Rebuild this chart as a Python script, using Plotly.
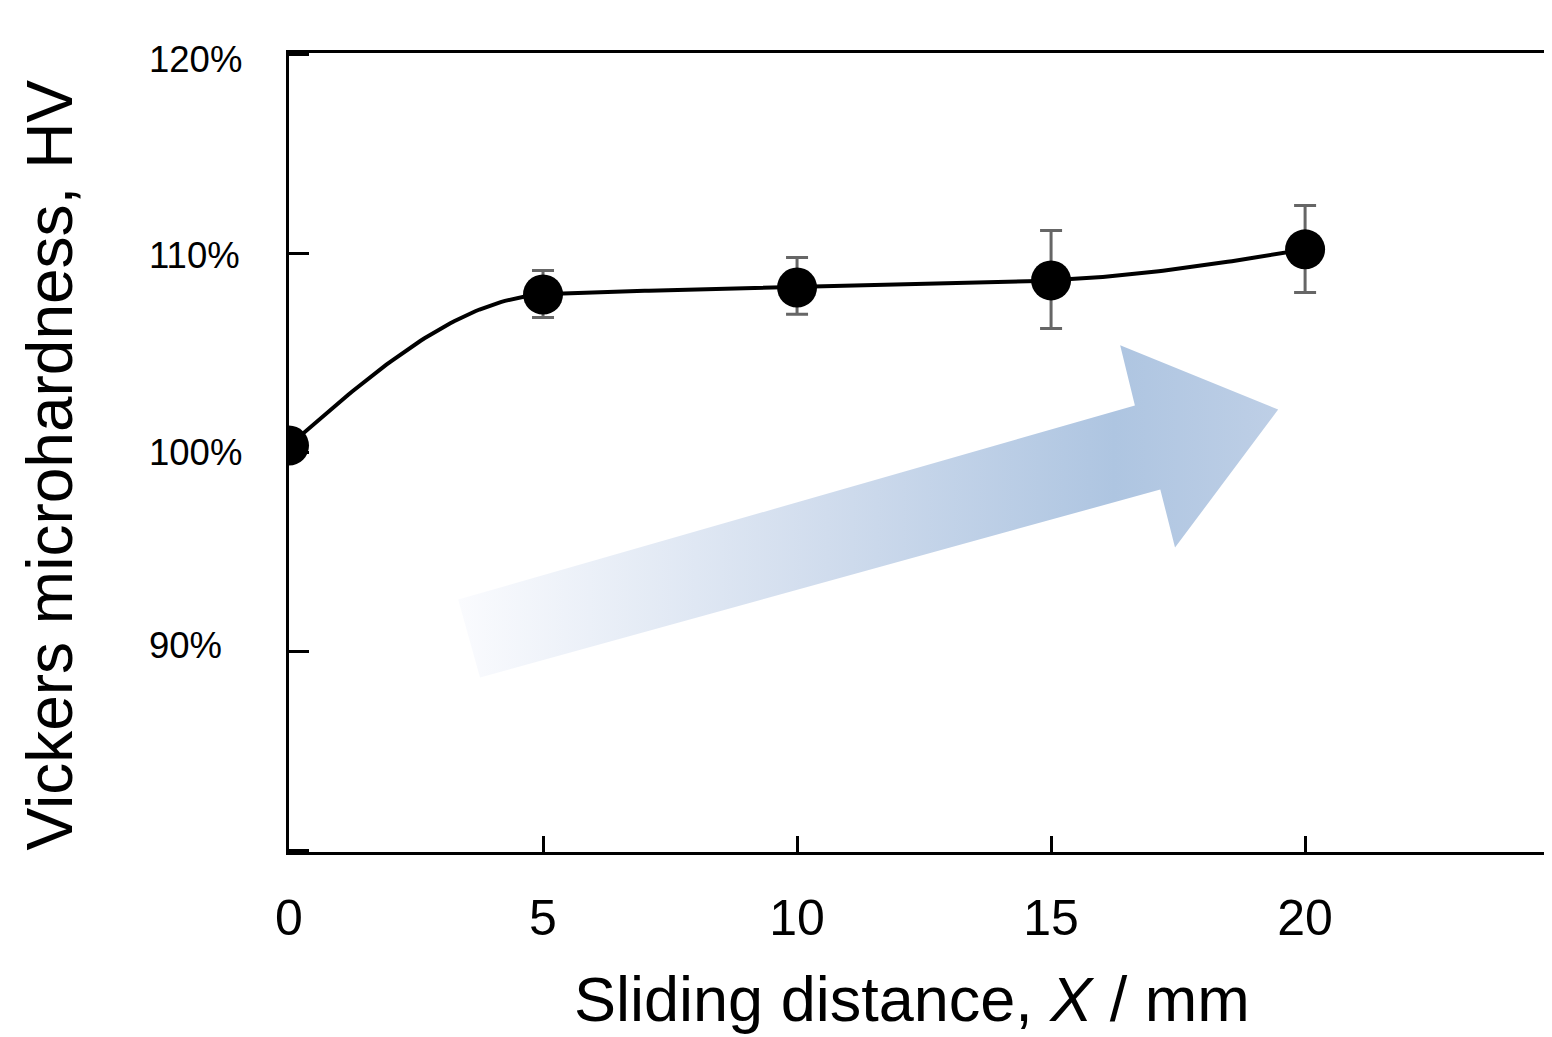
import numpy as np
import plotly.graph_objects as go

# ---- data ----
distance_mm = [0, 5, 10, 15, 20]
hardness_pct = [100.35, 107.95, 108.30, 108.66, 110.22]
err_plus = [0.0, 1.21, 1.51, 2.51, 2.21]
err_minus = [0.0, 1.16, 1.35, 2.42, 2.17]

y_tick_vals = [90, 100, 110, 120]
y_tick_text = ["90%", "100%", "110%", "120%"]
x_tick_vals = [0, 5, 10, 15, 20]
x_tick_text = ["0", "5", "10", "15", "20"]

# decorative trend arrow outline (data coordinates)
arrow_x = [3.76, 3.33, 16.65, 16.36, 19.47, 17.44, 17.15, 3.76]
arrow_y = [88.68, 92.60, 102.37, 105.39, 102.16, 95.22, 98.14, 88.68]

FONT = "Liberation Sans, Arial, sans-serif"


def pchip_curve(xs, ys, n=60):
    """Smooth monotone (PCHIP) guide line through the measured points."""
    x = np.asarray(xs, float)
    y = np.asarray(ys, float)
    h = np.diff(x)
    d = np.diff(y) / h
    m = np.zeros_like(y)
    for k in range(1, len(x) - 1):
        if d[k - 1] * d[k] > 0:
            w1 = 2 * h[k] + h[k - 1]
            w2 = h[k] + 2 * h[k - 1]
            m[k] = (w1 + w2) / (w1 / d[k - 1] + w2 / d[k])
    m[0] = ((2 * h[0] + h[1]) * d[0] - h[0] * d[1]) / (h[0] + h[1])
    m[-1] = ((2 * h[-1] + h[-2]) * d[-1] - h[-1] * d[-2]) / (h[-1] + h[-2])
    cx, cy = [], []
    for k in range(len(x) - 1):
        t = np.linspace(0, 1, n, endpoint=(k == len(x) - 2))
        h00 = 2 * t**3 - 3 * t**2 + 1
        h10 = t**3 - 2 * t**2 + t
        h01 = -2 * t**3 + 3 * t**2
        h11 = t**3 - t**2
        cx.extend(x[k] + t * h[k])
        cy.extend(h00 * y[k] + h10 * h[k] * m[k] + h01 * y[k + 1] + h11 * h[k] * m[k + 1])
    return cx, cy


curve_x, curve_y = pchip_curve(distance_mm, hardness_pct)

fig = go.Figure()

fig.add_trace(go.Scatter(
    x=arrow_x, y=arrow_y, mode="lines", fill="toself",
    line=dict(width=0, color="rgba(0,0,0,0)"),
    fillgradient=dict(
        type="horizontal",
        colorscale=[[0, "rgb(250,251,254)"], [0.45, "rgb(208,220,237)"],
                    [0.8, "rgb(174,197,225)"], [1, "rgb(190,207,230)"]],
    ),
    hoverinfo="skip", showlegend=False,
))

fig.add_trace(go.Scatter(
    x=curve_x, y=curve_y, mode="lines",
    line=dict(color="black", width=4),
    hoverinfo="skip", showlegend=False,
))

fig.add_trace(go.Scatter(
    x=distance_mm, y=hardness_pct, mode="markers",
    marker=dict(color="black", size=40),
    error_y=dict(type="data", symmetric=False, array=err_plus, arrayminus=err_minus,
                 color="#666666", thickness=3, width=11),
    showlegend=False,
))

fig.update_layout(
    width=1544, height=1029,
    margin=dict(l=281, r=0, t=45, b=185),
    paper_bgcolor="white", plot_bgcolor="white",
    font=dict(family=FONT, color="black"),
    showlegend=False,
)

fig.update_xaxes(
    range=[0, 24.86], showgrid=False, zeroline=False,
    showline=True, linecolor="black", linewidth=3, mirror=True,
    ticks="inside", ticklen=16, tickwidth=3, tickcolor="black",
    tickvals=x_tick_vals, ticktext=x_tick_text,
    tickfont=dict(family=FONT, size=50, color="black"),
    ticklabelstandoff=20,
)
fig.update_yaxes(
    range=[79.9, 120.1], showgrid=False, zeroline=False,
    showline=True, linecolor="black", linewidth=3, mirror=False,
    ticks="inside", ticklen=20, tickwidth=3, tickcolor="black",
    tickvals=[80] + y_tick_vals, showticklabels=False,
)

# y tick labels (left-aligned, as in the reference, with its slight offsets)
label_nudge = [6, 0, -2, -5]
for v, t, s in zip(y_tick_vals, y_tick_text, label_nudge):
    fig.add_annotation(x=-0.1125, xref="paper", y=v, yref="y", text=t, yshift=s,
                       showarrow=False, xanchor="left", yanchor="middle",
                       font=dict(family=FONT, size=36.5, color="black"))

# axis titles
fig.add_annotation(x=0.493, xref="paper", y=-0.1845, yref="paper",
                   text="Sliding distance, <i>X</i> / mm", showarrow=False,
                   xanchor="center", yanchor="middle",
                   font=dict(family=FONT, size=63, color="black"))
fig.add_annotation(x=-0.189, xref="paper", y=0.484, yref="paper",
                   text="Vickers microhardness, HV", showarrow=False, textangle=-90,
                   xanchor="center", yanchor="middle",
                   font=dict(family=FONT, size=64, color="black"))

fig.write_html("out.html")
